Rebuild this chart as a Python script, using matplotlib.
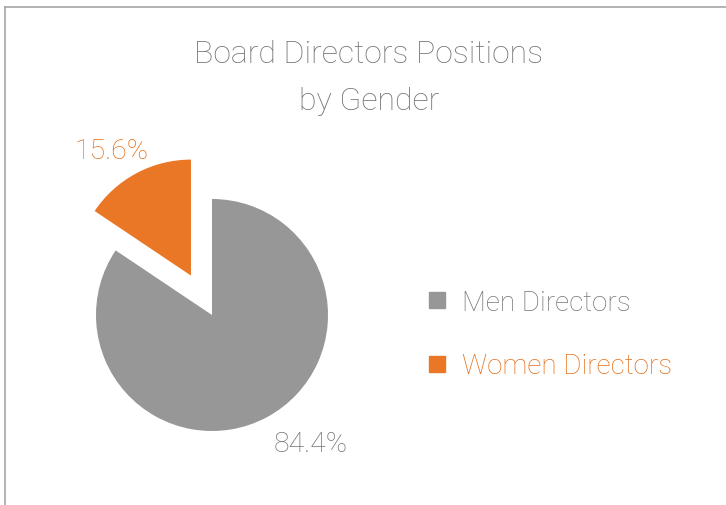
import matplotlib
matplotlib.use("Agg")
import matplotlib.pyplot as plt
from matplotlib.lines import Line2D

labels = ["Men Directors", "Women Directors"]
shares = [84.4, 15.6]
colors = ["#979797", "#E97725"]
text_colors = ["#757575", "#E56F1A"]

plt.rcParams["font.family"] = ["Roboto", "DejaVu Sans"]

fig = plt.figure(figsize=(7.26, 5.06), dpi=100)
ax = fig.add_axes([0, 0, 1, 1])
ax.axis("off")

# 116 px per data unit, pie centre at pixel (212, 316)
r = 116.0

wedges, texts, autotexts = ax.pie(
    shares, colors=colors, explode=[0, 0.385], startangle=90,
    counterclock=False, autopct="%.1f%%", pctdistance=1.3,
    textprops={"fontsize": 20.5, "fontweight": "light"})
for t, c in zip(autotexts, text_colors):
    t.set_color(c)
autotexts[0].set_position((0.853, -1.112))
autotexts[1].set_position((-0.87, 1.415))
ax.set_xlim(-212 / r, (726 - 212) / r)
ax.set_ylim(-(506 - 316) / r, 316 / r)
ax.set_aspect("auto")

fig.text(369 / 726, 1 - 78 / 506, "Board Directors Positions\nby Gender",
         ha="center", va="center", fontsize=23, fontweight="light",
         color="#757575", linespacing=1.8)

handles = [Line2D([], [], linestyle="none", marker="s", markersize=12,
                  color=c) for c in colors]
leg = ax.legend(handles, labels, loc="center left",
                bbox_to_anchor=(401 / 726, 1 - 335 / 506),
                bbox_transform=fig.transFigure, frameon=False,
                labelspacing=1.32, handlelength=0.8,
                handletextpad=0.5, prop={"size": 20, "weight": "light"})
for t, c in zip(leg.get_texts(), text_colors):
    t.set_color(c)

# chart border (left and top edges only visible)
fig.add_artist(Line2D([4.5 / 726, 4.5 / 726], [0, 1 - 8 / 506],
                      transform=fig.transFigure, color="#A6A6A6", lw=1.2))
fig.add_artist(Line2D([4.5 / 726, 1], [1 - 8 / 506, 1 - 8 / 506],
                      transform=fig.transFigure, color="#A6A6A6", lw=1.2))

fig.savefig("out.png", dpi=100)
